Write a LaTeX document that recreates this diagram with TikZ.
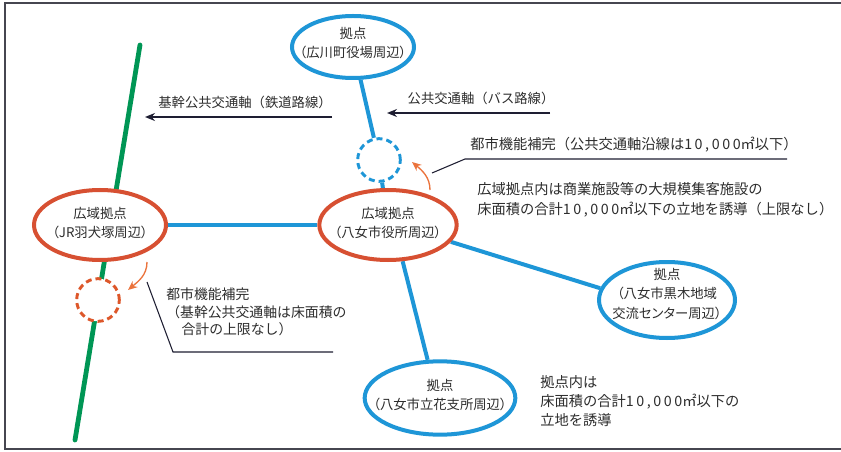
\documentclass[tikz,border=0pt]{standalone}
\usepackage{fontspec}
\setmainfont{Noto Sans CJK JP}
\newfontfamily\jpp{Noto Sans CJK JP}[RawFeature=+palt]
\newcommand\widenum[1]{{\addfontfeature{LetterSpace=18}#1}}
\usetikzlibrary{shapes.geometric,arrows.meta,backgrounds}
\definecolor{cblue}{RGB}{30,150,215}
\definecolor{cred}{RGB}{215,80,50}
\definecolor{corange}{RGB}{235,115,60}
\definecolor{cgreen}{RGB}{0,150,85}
\definecolor{ctext}{RGB}{45,45,45}
\definecolor{cline}{RGB}{30,30,50}
\definecolor{cframe}{RGB}{70,70,80}
\begin{document}
\begin{tikzpicture}[x=0.75pt,y=-0.75pt,
  ellbase/.style={ellipse, line width=3pt, fill=white, inner sep=0pt},
  hub/.style={ellbase, draw=cred},
  spot/.style={ellbase, draw=cblue},
  elltext/.style={inner sep=0pt, align=center, text=ctext, font=\jpp\fontsize{10}{14.5}\selectfont},
  dcirc/.style={circle, line width=2.2pt, fill=white, minimum size=32pt, inner sep=0pt, dash pattern=on 4.5pt off 3pt},
  link/.style={line width=3pt, draw=cblue},
  rail/.style={line width=3.6pt, draw=cgreen, line cap=round},
  flowarrow/.style={line width=1pt, draw=cline, -{Stealth[length=7.5pt,width=6pt]}},
  leader/.style={line width=0.8pt, draw=cline},
  curvearrow/.style={line width=1pt, draw=corange, -{Stealth[length=7pt,width=6pt]}},
  note/.style={inner sep=0pt, text=ctext, align=left, font=\fontsize{10.7}{15}\selectfont},
  flowlabel/.style={inner sep=0pt, text=ctext, font=\fontsize{10}{12}\selectfont}
]
\useasboundingbox (0,0) rectangle (841,452);
\begin{pgfonlayer}{background}
\fill[white] (0,0) rectangle (841,452);
\end{pgfonlayer}
% frame
\draw[line width=1.1pt, draw=cframe] (841,3) -- (5,3) -- (5,449) -- (841,449);

% railway (green)
\coordinate (g1) at (140,45);
\coordinate (g2) at (75,440);
\draw[rail] (g1) -- (g2);

% nodes
\node[hub, minimum width=99pt, minimum height=52.5pt] (jr) at (100,225) {};
\node[hub, minimum width=103pt, minimum height=52.5pt] (ctr) at (388,225) {};
\node[spot, minimum width=91.5pt, minimum height=46.5pt] (top) at (353,47) {};
\node[spot, minimum width=102pt, minimum height=57pt] (rgt) at (667,300) {};
\node[spot, minimum width=113pt, minimum height=55pt] (bot) at (440,398) {};
\node[dcirc, draw=cblue] (bc) at (379,160) {};
\node[dcirc, draw=cred!85!orange] (oc) at (98,300) {};

\node[elltext] (jrt) at (100,223) {広域拠点\\（JR羽犬塚周辺）};
\node[elltext] (ctrt) at (388,223) {広域拠点\\（八女市役所周辺）};
\node[elltext] (topt) at (353,43) {拠点\\（広川町役場周辺）};
\node[elltext] (rgtt) at (667,294) {拠点\\（八女市黒木地域\\交流センター周辺）};
\node[elltext] (bott) at (440,395) {拠点\\（八女市立花支所周辺）};

\begin{pgfonlayer}{background}
  \draw[link] (top) -- (bc);
  \draw[link] (bc) -- (ctr);
  \draw[link] (jr) -- (ctr);
  \draw[link] (ctr.345) -- (rgt.170);
  \draw[link] (ctr.292) -- (bot.108);
\end{pgfonlayer}

% transport arrows
\coordinate (a1s) at (332,117);
\coordinate (a1e) at (145,117);
\draw[flowarrow] (a1s) -- (a1e);
\node[flowlabel] (l1) at (245,102) {基幹公共交通軸（鉄道路線）};
\coordinate (a2s) at (550,113);
\coordinate (a2e) at (387,113);
\draw[flowarrow] (a2s) -- (a2e);
\node[flowlabel] (l2) at (481,98) {公共交通軸（バス路線）};

% top annotation
\node[note, anchor=base west] (n1) at (470,150) {都市機能補完（公共交通軸沿線は\widenum{10,000}㎡以下）};
\coordinate (n1a) at (432,173);
\coordinate (n1b) at (465,159);
\coordinate (n1c) at (787,159);
\draw[leader] (n1a) -- (n1b) -- (n1c);
\coordinate (ca1) at (430,190);
\coordinate (ca2) at (412,162);
\draw[curvearrow] (ca1) to[out=90, in=-40] (ca2);

\node[note, anchor=west] (n2) at (477,200) {広域拠点内は商業施設等の大規模集客施設の\\床面積の合計\widenum{10,000}㎡以下の立地を誘導（上限なし）};

% JR annotation
\node[note, anchor=west, font=\fontsize{10.4}{13}\selectfont] (n3) at (166,312) {都市機能補完\\（基幹公共交通軸は床面積の\\\hspace{1.1em}合計の上限なし）};
\coordinate (n3a) at (147,282);
\coordinate (n3b) at (173,352);
\coordinate (n3c) at (333,352);
\draw[leader] (n3a) -- (n3b) -- (n3c);
\coordinate (cb1) at (147,262);
\coordinate (cb2) at (128,290);
\draw[curvearrow] (cb1) to[out=-90, in=40] (cb2);

% bottom annotation
\node[note, anchor=west, font=\fontsize{10.7}{14.3}\selectfont] (n4) at (540,401) {拠点内は\\床面積の合計\widenum{10,000}㎡以下の\\立地を誘導};
\end{tikzpicture}
\end{document}
